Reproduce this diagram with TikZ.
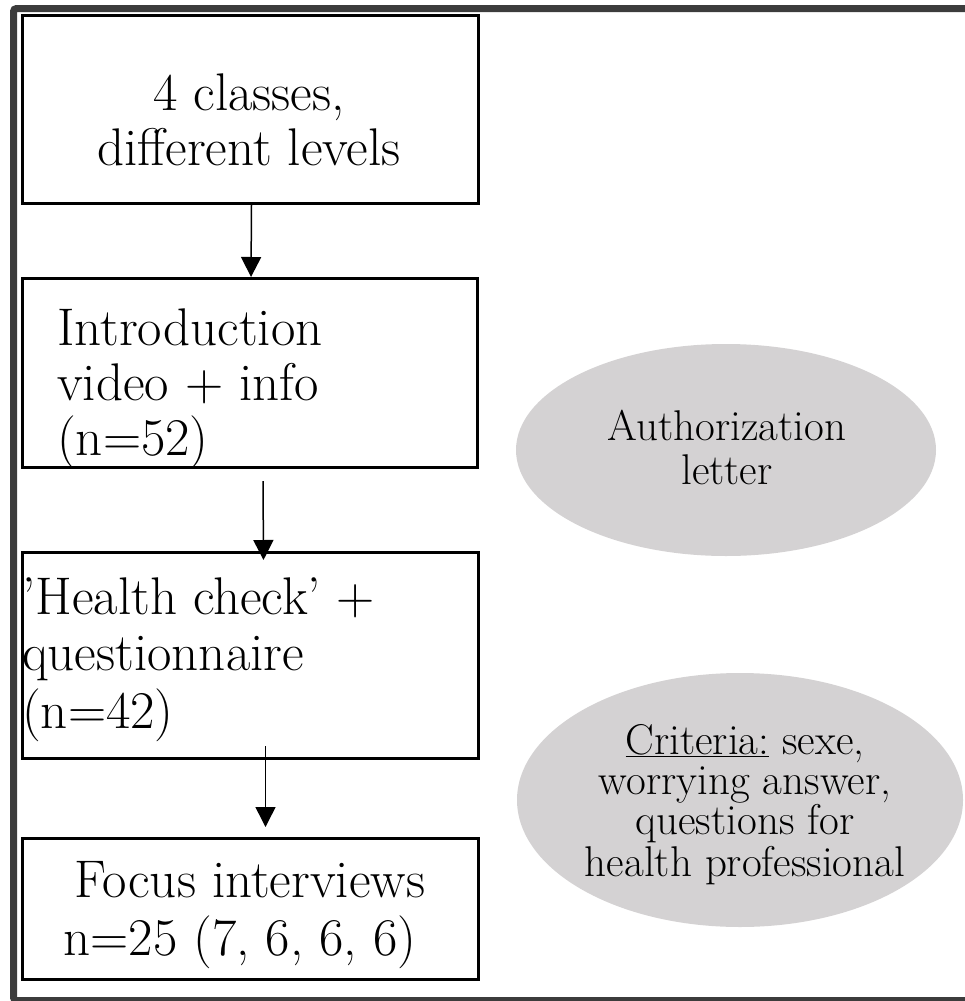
\documentclass[tikz,border=0pt]{standalone}
\usetikzlibrary{shapes.geometric,arrows.meta}
\definecolor{ellgray}{RGB}{212,210,211}
\definecolor{framegray}{RGB}{60,60,60}
\begin{document}
\begin{tikzpicture}[x=1pt,y=-1pt,
  flowbox/.style={draw=black, line width=3pt, rectangle, inner sep=0pt, anchor=north west},
  ellnode/.style={ellipse, fill=ellgray, draw=none, inner sep=0pt},
  boxtext/.style={inner sep=0pt, font=\fontsize{53}{55}\selectfont},
  elltext/.style={inner sep=0pt, font=\fontsize{43}{44}\selectfont, anchor=base},
  arr/.style={line width=1.5pt, -{Triangle[width=20pt,length=20pt]}}]
\useasboundingbox (0,0) rectangle (964,1001);
% outer frame
\draw[line width=7pt, framegray, rounded corners=3pt] (13.5,8.5) rectangle (972,1000.5);
% boxes
\node[flowbox, minimum width=456pt, minimum height=188pt] (b1) at (21,14) {};
\node[flowbox, minimum width=455pt, minimum height=189pt] (b2) at (21,277) {};
\node[flowbox, minimum width=456pt, minimum height=206pt] (b3) at (21,551) {};
\node[flowbox, minimum width=456pt, minimum height=141pt] (b4) at (21,837) {};
% box texts
\node[boxtext, anchor=base] (t1a) at (249,110) {4 classes,};
\node[boxtext, anchor=base] (t1b) at (249,165) {different levels};
\node[boxtext, anchor=base west] (t2a) at (57,345) {Introduction};
\node[boxtext, anchor=base west] (t2b) at (57,400) {video + info};
\node[boxtext, anchor=base west] (t2c) at (57,455) {(n=52)};
\node[boxtext, anchor=base west] (t3a) at (22,614) {’Health check’ +};
\node[boxtext, anchor=base west] (t3b) at (22,670) {questionnaire};
\node[boxtext, anchor=base west] (t3c) at (22,728) {(n=42)};
\node[boxtext, anchor=base] (t4a) at (250,897) {Focus interviews};
\node[boxtext, anchor=base] (t4b) at (240,955) {n=25 (7, 6, 6, 6)};
% arrows
\coordinate (a2s) at ([xshift=13pt,yshift=-12pt]b2.south);
\coordinate (a2e) at ([xshift=13pt,yshift=-9pt]b3.north);
\coordinate (a3s) at ([xshift=15pt,yshift=14pt]b3.south);
\coordinate (a3e) at ([xshift=15pt,yshift=10pt]b4.north);
\draw[arr] ([xshift=1pt]b1.south) -- ([xshift=1pt]b2.north);
\draw[arr] (a2s) -- (a2e);
\draw[arr] (a3s) -- (a3e);
% ellipses
\node[ellnode, minimum width=420pt, minimum height=212pt] (e1) at (726,450) {};
\node[ellnode, minimum width=446pt, minimum height=254pt] (e2) at (740,800) {};
\node[elltext] (e1a) at (727,440) {Authorization};
\node[elltext] (e1b) at (727,484) {letter};
\node[elltext] (e2a) at (745,754) {\underline{Criteria:} sexe,};
\node[elltext] (e2b) at (745,794) {worrying answer,};
\node[elltext] (e2c) at (745,834) {questions for};
\node[elltext] (e2d) at (745,876) {health professional};
\end{tikzpicture}
\end{document}
